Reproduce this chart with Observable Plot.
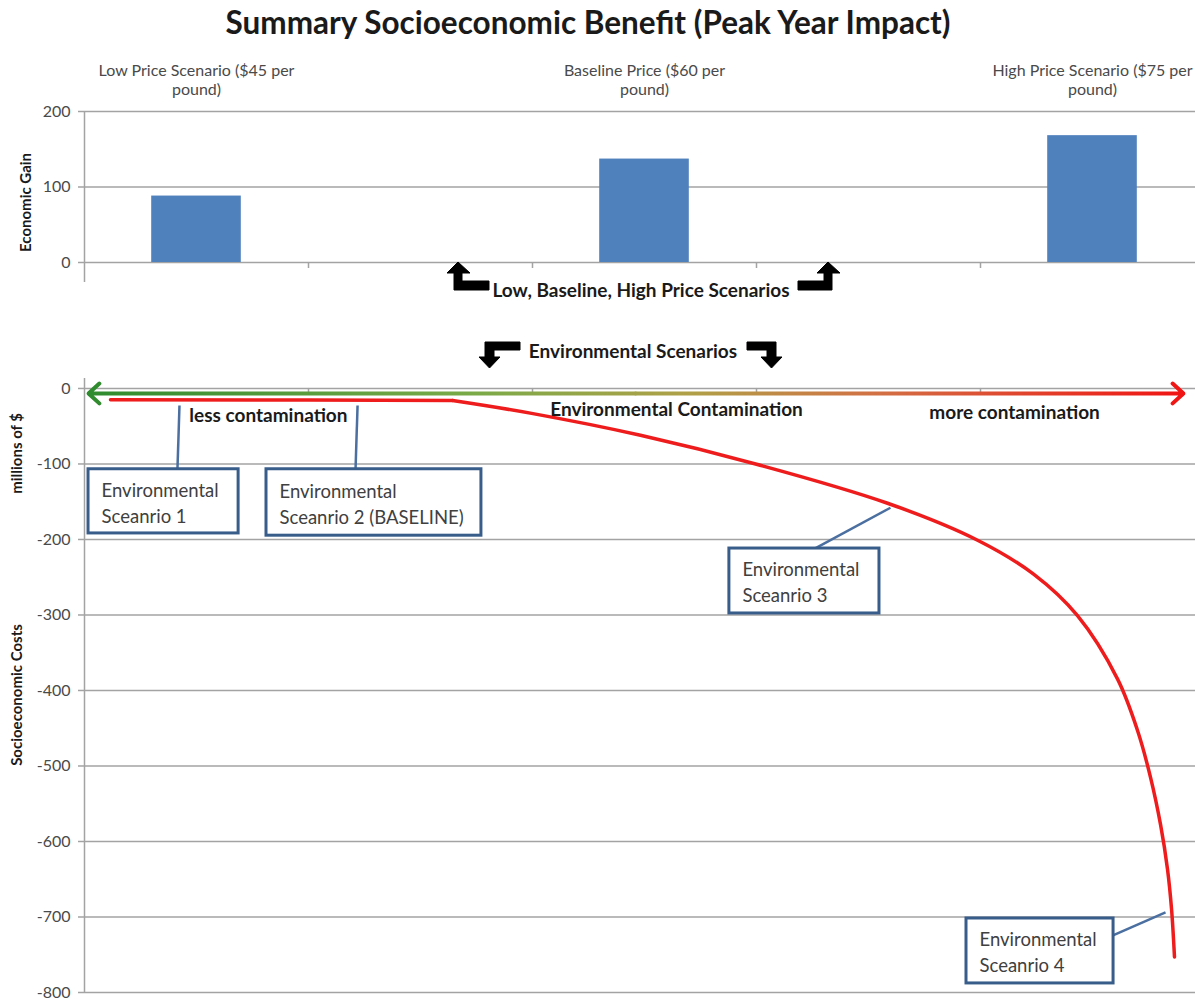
<!DOCTYPE html>
<html><head><meta charset="utf-8">
<script src="https://cdn.jsdelivr.net/npm/d3@7"></script>
<script src="https://cdn.jsdelivr.net/npm/@observablehq/plot@0.6"></script>
<style>
body{margin:0;background:#fff;}
#page{position:relative;width:1195px;height:1000px;overflow:hidden;background:#fff;font-family:Lato,"Open Sans",sans-serif;}
.abs{position:absolute;}
.lbl{font-weight:bold;font-size:19px;color:#1a1a1a;white-space:nowrap;transform:translate(-50%,-50%);}
#title{font-weight:bold;font-size:31.5px;color:#1a1a1a;white-space:nowrap;transform:translate(-50%,-50%);left:588px;top:22px;}
</style></head><body>
<div id="page">
<div id="title" class="abs">Summary Socioeconomic Benefit (Peak Year Impact)</div>
<div id="top" class="abs" style="left:0;top:50px"></div>
<div id="bottom" class="abs" style="left:0;top:330px"></div>
<div id="mid1" class="abs lbl" style="left:641px;top:289px">Low, Baseline, High Price Scenarios</div>
<div id="mid2" class="abs lbl" style="left:633px;top:350px">Environmental Scenarios</div>
<svg id="arrows" class="abs" width="1195" height="1000" style="left:0;top:0;pointer-events:none"></svg>
</div>
<script>
// ---------- DATA ----------
const priceScenarios = ["Low Price Scenario ($45 per\npound)", "", "Baseline Price ($60 per\npound)", "", "High Price Scenario ($75 per\npound)"];
const economicGain = [88, null, 137, null, 168];
const gainTicks = [0, 100, 200];

const contamination = [0.116, 1.0, 1.643, 1.996, 2.482, 2.996, 3.585, 3.987, 4.237, 4.433, 4.612, 4.701, 4.759, 4.804, 4.835, 4.853, 4.866];
const socioCost = [-15, -15.3, -16, -33, -62, -100, -152, -201, -246, -301, -385, -453, -515, -578, -637, -690, -753];
const costTicks = [0, -100, -200, -300, -400, -500, -600, -700, -800];
const envCategories = 5;
const cornerIndex = 2; // where the flat stretch turns into the falling curve

const envScenarios = ["Environmental\nSceanrio 1", "Environmental\nSceanrio 2 (BASELINE)", "Environmental\nSceanrio 3", "Environmental\nSceanrio 4"];
const contaminationLabels = ["less contamination", "Environmental Contamination", "more contamination"];

// ---------- ANNOTATION PLACEMENT (data units) ----------
const boxPos = [
  {x1: 0.018, x2: 0.688, y1: -107, y2: -192},
  {x1: 0.8125, x2: 1.772, y1: -107, y2: -195},
  {x1: 2.879, x2: 3.549, y1: -212, y2: -298},
  {x1: 3.9375, x2: 4.594, y1: -702, y2: -788}
];
const leaderPos = [
  {x1: 0.415, y1: -107, x2: 0.424, y2: -22.5},
  {x1: 1.21, y1: -107, x2: 1.219, y2: -22.5},
  {x1: 3.26, y1: -212, x2: 3.598, y2: -158},
  {x1: 4.594, y1: -724, x2: 4.826, y2: -694}
];
const labelPos = [{x: 0.821, y: -37}, {x: 2.643, y: -29}, {x: 4.152, y: -32}];
const envArrowEnds = {left: 0.018, right: 4.906, mid: 2.46, y: -6.6};

const GRID = "#a3a3a3";
const TXT = "#4a4a4a";
const FONT = "Lato, 'Open Sans', sans-serif";

// ---------- TOP PANEL ----------
const topData = priceScenarios.map((label, i) => ({label, value: economicGain[i], slot: i}));
const barData = topData.filter(d => d.value != null);

const topPlot = Plot.plot({
  width: 1195, height: 240,
  marginTop: 61, marginBottom: 8, marginLeft: 84, marginRight: 0,
  style: {fontFamily: FONT, background: "transparent", overflow: "visible"},
  x: {domain: [0, priceScenarios.length], range: [84, 1204], axis: null},
  y: {domain: [-26.5, 200], axis: null, label: null},
  marks: [
    Plot.ruleY(gainTicks, {stroke: GRID, strokeWidth: 1.5}),
    Plot.ruleX([0], {stroke: GRID, strokeWidth: 1.5}),
    Plot.ruleX(d3.range(1, priceScenarios.length), {y1: 0, y2: 0, insetBottom: -6, stroke: GRID, strokeWidth: 1.5}),
    Plot.axisY({ticks: gainTicks, tickSize: 6, tickPadding: 8, fontSize: 16, stroke: GRID, strokeWidth: 1.5, fill: TXT, label: null, tickFormat: d => String(d)}),
    Plot.rect(barData, {x1: d => d.slot + 0.3, x2: d => d.slot + 0.7, y1: 0, y2: "value", fill: "#4f81bd"}),
    Plot.text(barData, {x: d => d.slot + 0.5, frameAnchor: "top", lineAnchor: "bottom", dy: -17, text: "label", fontSize: 16, lineHeight: 1.15, fill: TXT}),
    Plot.text(["Economic Gain"], {frameAnchor: "left", textAnchor: "middle", y: 79.5, dx: -58, rotate: -90, text: d => d, fontWeight: "bold", fontSize: 15, fill: "#1a1a1a"})
  ]
});
document.getElementById("top").appendChild(topPlot);

// ---------- BOTTOM PANEL ----------
const curveData = contamination.map((x, i) => ({x, y: socioCost[i]}));
const flatPart = curveData.slice(0, cornerIndex + 1);
const fallPart = curveData.slice(cornerIndex);
const boxes = envScenarios.map((text, i) => ({text, ...boxPos[i]}));
const leaders = leaderPos;
const cLabels = contaminationLabels.map((text, i) => ({text, ...labelPos[i]}));
const envArrows = [
  {x1: envArrowEnds.mid, x2: envArrowEnds.left, y: envArrowEnds.y},
  {x1: envArrowEnds.mid, x2: envArrowEnds.right, y: envArrowEnds.y}
];

const bottomPlot = Plot.plot({
  width: 1195, height: 670,
  marginTop: 48, marginBottom: 8, marginLeft: 84, marginRight: 0,
  style: {fontFamily: FONT, background: "transparent", overflow: "visible"},
  x: {domain: [0, envCategories], range: [84, 1204], axis: null},
  y: {domain: [-800, 13.2], axis: null, label: null},
  marks: [
    Plot.ruleY(costTicks, {stroke: GRID, strokeWidth: 1.5}),
    Plot.ruleX([0], {stroke: GRID, strokeWidth: 1.5}),
    Plot.ruleX(d3.range(1, envCategories), {y1: 0, y2: 0, insetBottom: -6, stroke: GRID, strokeWidth: 1.5}),
    Plot.axisY({ticks: costTicks, tickSize: 6, tickPadding: 8, fontSize: 16, stroke: GRID, strokeWidth: 1.5, fill: TXT, label: null, tickFormat: d => String(d)}),
    Plot.arrow(envArrows, {x1: "x1", x2: "x2", y1: "y", y2: "y", stroke: "url(#envGrad)", strokeWidth: 4, headLength: 5.5, headAngle: 85}),
    Plot.line(flatPart, {x: "x", y: "y", stroke: "#ee1c1c", strokeWidth: 3.5, strokeLinecap: "round"}),
    Plot.line(fallPart, {x: "x", y: "y", stroke: "#ee1c1c", strokeWidth: 3.5, curve: "catmull-rom", strokeLinecap: "round"}),
    Plot.text(cLabels, {x: "x", y: "y", text: "text", fontWeight: "bold", fontSize: 19, fill: "#1a1a1a"}),
    Plot.link(leaders, {x1: "x1", y1: "y1", x2: "x2", y2: "y2", stroke: "#4a6fa0", strokeWidth: 2.5}),
    Plot.rect(boxes, {x1: "x1", x2: "x2", y1: "y1", y2: "y2", fill: "white", stroke: "#385d8a", strokeWidth: 3}),
    Plot.text(boxes, {x: "x1", y: d => (d.y1 + d.y2) / 2, dx: 13, textAnchor: "start", text: "text", fontSize: 18.5, lineHeight: 1.4, fill: "#404040"}),
    Plot.text(["millions of $"], {frameAnchor: "left", textAnchor: "middle", y: -86, dx: -67, rotate: -90, text: d => d, fontWeight: "bold", fontSize: 15, fill: "#1a1a1a"}),
    Plot.text(["Socioeconomic Costs"], {frameAnchor: "left", textAnchor: "middle", y: -406, dx: -67, rotate: -90, text: d => d, fontWeight: "bold", fontSize: 15, fill: "#1a1a1a"})
  ]
});
document.getElementById("bottom").appendChild(bottomPlot);

// gradient for the contamination arrow, positioned via the x scale
const xs = bottomPlot.scale("x");
const gx1 = xs.apply(envArrowEnds.left), gx2 = xs.apply(envArrowEnds.right);
d3.select(bottomPlot).insert("defs", ":first-child").html(
  `<linearGradient id="envGrad" gradientUnits="userSpaceOnUse" x1="${gx1}" y1="0" x2="${gx2}" y2="0">
     <stop offset="0" stop-color="#2e8b2e"/>
     <stop offset="0.35" stop-color="#7aaa48"/>
     <stop offset="0.55" stop-color="#b0a048"/>
     <stop offset="0.72" stop-color="#d27044"/>
     <stop offset="1" stop-color="#f01414"/>
   </linearGradient>`);

// decorative bent block arrows between panels
const arrowShapes = [
  "M458,262 L470,273 L462,273 L462,281 L489,281 L489,290 L454,290 L454,273 L447,273 Z",
  "M828,262 L840,273 L832,273 L832,290 L798,290 L798,281 L824,281 L824,273 L817,273 Z",
  "M520,342 L520,350 L494,350 L494,357 L500,357 L489.5,368 L479,357 L485,357 L485,342 Z",
  "M747,342 L776,342 L776,357 L782,357 L771.5,368 L761,357 L767,357 L767,350 L747,350 Z"
];
d3.select("#arrows").selectAll("path").data(arrowShapes).join("path")
  .attr("d", d => d).attr("fill", "#000").attr("stroke", "#000").attr("stroke-width", 1);
</script>
</body></html>
